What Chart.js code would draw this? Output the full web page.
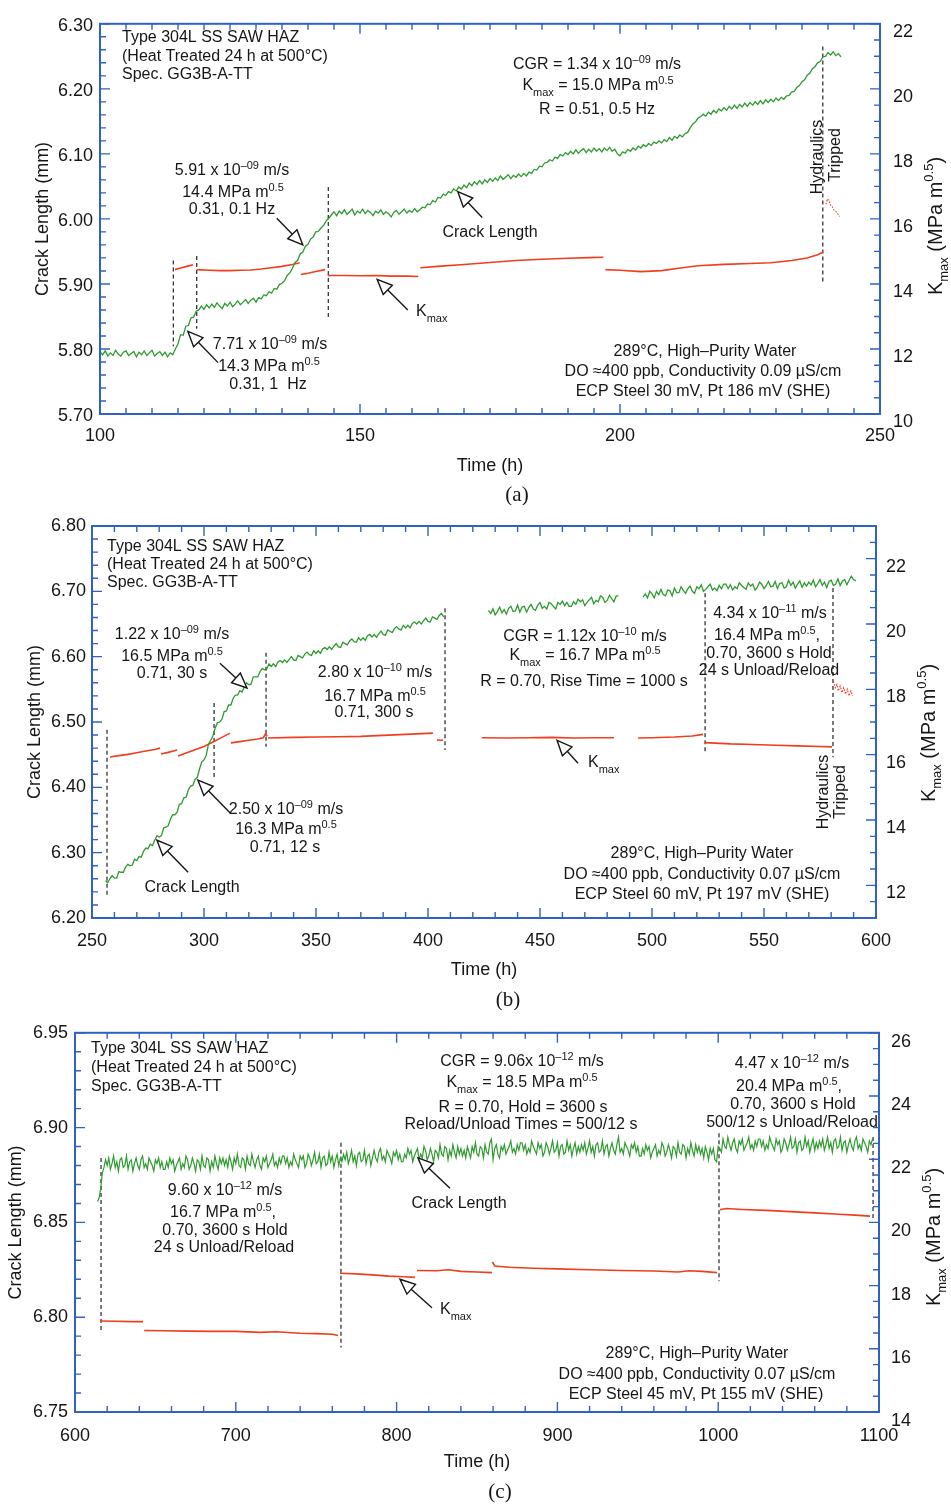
<!DOCTYPE html>
<html><head><meta charset="utf-8">
<script src="https://cdn.jsdelivr.net/npm/chart.js@4.4.0/dist/chart.umd.min.js"></script>
<style>
html,body{margin:0;padding:0;background:#fff;}
body{width:951px;height:1507px;position:relative;overflow:hidden;}
canvas{position:absolute;left:0;}
</style></head><body>
<canvas id="ca" width="951" height="505" style="top:0px"></canvas>
<canvas id="cb" width="951" height="505" style="top:505px"></canvas>
<canvas id="cc" width="951" height="497" style="top:1010px"></canvas>
<script>
// ---------------- DATA ----------------
// Panel (a): crack length (mm), sampled every 0.5 h from 100 h
const crackA_t0 = 100, crackA_dt = 0.5;
const crackA = [
5.796,5.791,5.797,5.789,5.794,5.790,5.798,5.792,5.789,5.795,
5.797,5.790,5.793,5.796,5.788,5.795,5.791,5.797,5.790,5.794,
5.798,5.789,5.793,5.796,5.790,5.795,5.788,5.794,5.791,5.800,
5.808,5.822,5.821,5.835,5.836,5.848,5.849,5.858,5.860,5.866,
5.861,5.868,5.863,5.869,5.864,5.871,5.866,5.862,5.870,5.866,
5.872,5.865,5.869,5.874,5.868,5.872,5.876,5.870,5.875,5.878,
5.872,5.879,5.877,5.883,5.882,5.888,5.886,5.893,5.892,5.899,
5.901,5.905,5.913,5.917,5.924,5.933,5.936,5.946,5.949,5.958,
5.961,5.969,5.972,5.980,5.981,5.986,5.990,5.997,6.001,6.006,
6.011,6.005,6.012,6.008,6.014,6.007,6.011,6.015,6.006,6.012,
6.009,6.015,6.008,6.013,6.010,6.005,6.012,6.009,6.014,6.007,
6.011,6.008,6.003,6.010,6.013,6.007,6.011,6.015,6.009,6.013,
6.010,6.016,6.011,6.014,6.018,6.017,6.023,6.022,6.028,6.026,
6.033,6.032,6.038,6.036,6.042,6.040,6.046,6.043,6.049,6.046,
6.052,6.048,6.055,6.051,6.057,6.053,6.059,6.054,6.060,6.056,
6.062,6.058,6.063,6.059,6.066,6.061,6.064,6.068,6.062,6.067,
6.064,6.069,6.065,6.070,6.066,6.072,6.070,6.076,6.075,6.081,
6.080,6.086,6.087,6.091,6.089,6.095,6.093,6.099,6.097,6.102,
6.099,6.104,6.100,6.106,6.101,6.105,6.108,6.102,6.107,6.103,
6.109,6.104,6.108,6.103,6.109,6.105,6.110,6.104,6.107,6.100,
6.097,6.103,6.101,6.107,6.104,6.109,6.106,6.112,6.109,6.114,
6.111,6.116,6.113,6.118,6.116,6.120,6.117,6.122,6.119,6.125,
6.121,6.127,6.124,6.129,6.126,6.131,6.133,6.140,6.146,6.149,
6.155,6.157,6.161,6.158,6.164,6.161,6.167,6.163,6.169,6.166,
6.171,6.167,6.173,6.169,6.175,6.170,6.176,6.172,6.178,6.173,
6.179,6.175,6.180,6.176,6.182,6.177,6.183,6.179,6.184,6.180,
6.186,6.182,6.187,6.184,6.189,6.190,6.195,6.196,6.202,6.205,
6.211,6.214,6.221,6.224,6.231,6.234,6.240,6.242,6.249,6.250,
6.256,6.252,6.257,6.251,6.254,6.249];
// Kmax (MPa m^0.5) segments, [time h, Kmax]
const kmaxA = [
 [[114.4,14.44],[115.5,14.49],[116.7,14.54],[117.9,14.59]],
 [[118.6,14.44],[121,14.42],[123,14.41],[125,14.41],[127,14.42],[129,14.43],[131,14.46],[133,14.50],[135,14.54],[137,14.60],[138.4,14.65]],
 [[138.6,14.29],[140,14.33],[141.5,14.38],[143.3,14.44]],
 [[143.8,14.26],[147,14.26],[150,14.25],[153,14.26],[156,14.24],[159,14.24],[161.2,14.23]],
 [[161.6,14.50],[165,14.54],[170,14.60],[175,14.66],[180,14.72],[185,14.76],[190,14.79],[194,14.81],[196.8,14.82]],
 [[197.2,14.44],[200,14.42],[204,14.38],[208,14.41],[212,14.50],[215,14.56],[220,14.60],[225,14.63],[229,14.65],[233,14.72],[236,14.80],[238,14.90],[239.1,14.98]]
];
const kmaxA_trip = [[239.6,16.45],[239.9,16.62],[240.2,16.55],[240.5,16.42],[240.8,16.38],[241.1,16.28],[241.4,16.24],[241.7,16.2],[242,16.12],[242.3,16.08]];
// vertical dashed markers: [time, crack top, crack bottom]
const dashA = [[114.1,5.936,5.804],[118.6,5.943,5.831],[143.9,6.049,5.847],[239.0,6.265,5.903]];
const xTicksA = [100,150,200,250];
const lTicksA = [5.7,5.8,5.9,6.0,6.1,6.2,6.3];
const rTicksA = [10,12,14,16,18,20,22];

// Panel (b): sampled every 1 h
const crackB_dt = 1;
const crackB1_t0 = 256;
const crackB1 = [
6.257,6.254,6.260,6.265,6.261,6.261,6.271,6.270,6.270,6.278,
6.282,6.280,6.281,6.290,6.288,6.294,6.293,6.302,6.307,6.306,
6.313,6.311,6.319,6.326,6.324,6.326,6.338,6.339,6.341,6.351,
6.358,6.358,6.362,6.374,6.375,6.384,6.385,6.396,6.402,6.403,
6.412,6.415,6.428,6.439,6.442,6.449,6.466,6.472,6.479,6.491,
6.499,6.500,6.504,6.516,6.517,6.526,6.526,6.536,6.541,6.541,
6.548,6.546,6.554,6.560,6.557,6.558,6.569,6.569,6.569,6.577,
6.582,6.580,6.581,6.589,6.585,6.589,6.585,6.592,6.594,6.591,
6.595,6.591,6.596,6.600,6.595,6.594,6.602,6.600,6.598,6.604,
6.607,6.603,6.602,6.609,6.605,6.609,6.605,6.612,6.614,6.611,
6.615,6.611,6.616,6.620,6.615,6.614,6.622,6.620,6.618,6.624,
6.627,6.623,6.622,6.629,6.625,6.629,6.625,6.632,6.634,6.630,
6.634,6.630,6.635,6.639,6.634,6.633,6.641,6.639,6.637,6.643,
6.646,6.642,6.641,6.648,6.644,6.648,6.644,6.651,6.653,6.650,
6.654,6.650,6.655,6.659,6.654,6.653,6.661,6.659,6.657,6.663,
6.666,6.661];
const crackB2_t0 = 427;
const crackB2 = [
6.671,6.666,6.673,6.664,6.669,6.676,6.667,6.672,6.665,6.674,
6.677,6.669,6.670,6.679,6.668,6.676,6.677,6.668,6.675,6.680,
6.673,6.671,6.679,6.683,6.674,6.677,6.673,6.683,6.681,6.677,
6.673,6.683,6.680,6.685,6.678,6.683,6.677,6.677,6.684,6.680,
6.688,6.684,6.687,6.678,6.683,6.687,6.691,6.681,6.686,6.684,
6.693,6.691,6.683,6.686,6.694,6.689,6.684,6.693,6.693];
const crackB3_t0 = 496;
const crackB3 = [
6.691,6.696,6.690,6.700,6.696,6.690,6.700,6.695,6.703,6.695,
6.693,6.702,6.701,6.693,6.705,6.698,6.698,6.707,6.701,6.697,
6.704,6.708,6.700,6.697,6.707,6.704,6.710,6.700,6.703,6.707,
6.711,6.702,6.705,6.701,6.709,6.704,6.711,6.711,6.704,6.710,
6.702,6.707,6.704,6.713,6.709,6.706,6.703,6.713,6.708,6.711,
6.702,6.706,6.714,6.711,6.704,6.709,6.715,6.707,6.708,6.715,
6.704,6.712,6.713,6.705,6.707,6.717,6.709,6.714,6.705,6.711,
6.716,6.706,6.713,6.708,6.714,6.710,6.717,6.707,6.712,6.718,
6.709,6.714,6.706,6.715,6.717,6.709,6.711,6.719,6.709,6.716,
6.718,6.710,6.717,6.723,6.718,6.716];
const kmaxB = [
 [[258,15.93],[262,15.97],[266,16.01],[270,16.06],[274,16.11],[278,16.16],[280.4,16.20]],
 [[280.8,16.02],[284,16.07],[288,16.14]],
 [[288.4,15.96],[292,16.05],[296,16.15],[300,16.25],[304,16.39],[308,16.53],[311.6,16.66]],
 [[312,16.36],[316,16.40],[320,16.44],[324,16.48],[326.5,16.52],[327.5,16.64],[328.2,16.56]],
 [[328.6,16.51],[340,16.53],[350,16.54],[360,16.55],[370,16.56],[380,16.59],[390,16.62],[402.2,16.66]],
 [[404,16.45],[406.7,16.44]],
 [[424,16.52],[435,16.51],[445,16.52],[455,16.53],[465,16.51],[475,16.52],[483,16.52]],
 [[493.8,16.51],[500,16.52],[510,16.54],[518,16.57],[522.8,16.62]],
 [[523.7,16.37],[535,16.33],[545,16.31],[555,16.29],[565,16.27],[575,16.25],[580.4,16.24]]
];
const kmaxB_trip = [[581,18.25],[581.8,18.05],[582.5,18.15],[583.2,17.95],[584,18.1],[584.8,17.9],[585.6,18.05],[586.4,17.85],[587.2,18.0],[588,17.8],[588.8,17.95],[589.6,17.8]];
const dashB = [[256.7,6.488,6.231],[304.5,6.529,6.416],[327.7,6.606,6.462],[407.6,6.674,6.457],[523.7,6.697,6.453],[580.8,6.705,6.446]];
const xTicksB = [250,300,350,400,450,500,550,600];
const lTicksB = [6.2,6.3,6.4,6.5,6.6,6.7,6.8];
const rTicksB = [12,14,16,18,20,22];

// Panel (c): sampled every 1 h from 614 h
const crackC_t0 = 614, crackC_dt = 1;
const crackC = [
6.861,6.863,6.868,6.876,6.879,
6.883,6.880,6.884,6.878,6.881,6.885,6.879,6.882,6.877,6.883,6.884,6.879,6.880,6.885,6.878,6.882,6.883,6.877,6.881,6.884,6.880,6.878,6.883,6.885,6.879,6.881,6.878,6.884,6.882,6.880,6.877,6.883,6.881,6.884,6.879,6.882,6.878,
6.878,6.882,6.879,6.884,6.881,6.883,6.877,6.880,6.882,6.884,6.878,6.881,6.879,6.885,6.883,6.878,6.880,6.884,6.881,6.877,6.883,6.882,6.878,6.885,6.880,6.879,6.884,6.883,6.877,6.882,6.879,6.885,6.881,6.878,6.884,6.881,6.884,
6.880,6.883,6.879,6.885,6.882,6.878,6.884,6.881,6.886,6.880,6.879,6.884,6.883,6.878,6.885,6.881,6.880,6.886,6.882,6.879,6.883,6.885,6.880,6.878,6.884,6.882,6.885,6.879,6.881,6.883,6.886,6.880,6.882,6.879,6.884,6.881,6.885,
6.885,6.881,6.884,6.879,6.882,6.880,6.886,6.883,6.881,6.879,6.885,6.883,6.885,6.879,6.881,6.886,6.884,6.880,6.883,6.887,6.881,6.882,6.886,6.879,6.884,6.885,6.880,6.881,6.887,6.882,6.885,6.879,6.883,6.886,6.880,6.884,6.882,
6.886,6.883,6.887,6.881,6.884,6.888,6.882,6.885,6.880,6.886,6.887,6.882,6.883,6.888,6.881,6.885,6.886,6.880,6.884,6.888,6.884,6.882,6.887,6.889,6.883,6.885,6.882,6.888,6.886,6.884,6.881,6.887,6.885,6.888,6.883,6.886,6.882,
6.882,6.886,6.884,6.889,6.886,6.888,6.882,6.885,6.887,6.889,6.883,6.886,6.884,6.890,6.888,6.883,6.885,6.889,6.886,6.882,6.888,6.887,6.884,6.891,6.886,6.885,6.890,6.889,6.883,6.888,6.885,6.891,6.887,6.884,6.890,6.886,6.889,
6.885,6.888,6.884,6.890,6.887,6.884,6.890,6.887,6.892,6.886,6.885,6.890,6.889,6.884,6.891,6.887,6.886,6.892,6.894,6.883,6.889,6.891,6.886,6.884,6.890,6.888,6.891,6.886,6.888,6.890,6.893,6.887,6.889,6.886,6.891,6.888,6.892,
6.892,6.888,6.891,6.886,6.889,6.887,6.893,6.890,6.888,6.886,6.892,6.889,6.891,6.885,6.887,6.892,6.890,6.886,6.889,6.893,6.887,6.888,6.892,6.885,6.890,6.891,6.886,6.887,6.893,6.888,6.891,6.885,6.889,6.892,6.886,6.890,6.887,
6.891,6.888,6.892,6.886,6.889,6.893,6.887,6.890,6.885,6.891,6.892,6.887,6.888,6.893,6.886,6.890,6.891,6.885,6.889,6.892,6.888,6.886,6.891,6.895,6.887,6.889,6.886,6.892,6.890,6.888,6.885,6.891,6.889,6.892,6.887,6.890,6.885,
6.885,6.889,6.886,6.891,6.888,6.890,6.884,6.887,6.889,6.891,6.885,6.888,6.886,6.892,6.890,6.885,6.887,6.891,6.888,6.884,6.890,6.889,6.885,6.892,6.887,6.886,6.891,6.890,6.884,6.889,6.886,6.892,6.888,6.885,6.891,6.887,6.890,
6.886,6.889,6.884,6.890,6.887,6.883,6.889,6.886,6.889,6.883,6.882,6.890,6.889,6.887,6.894,6.890,6.889,6.895,6.891,6.888,6.892,6.894,6.889,6.887,6.893,6.891,6.894,6.888,6.890,6.892,6.895,6.889,6.891,6.888,6.893,6.890,6.894,
6.894,6.890,6.893,6.888,6.891,6.889,6.895,6.892,6.890,6.888,6.894,6.891,6.893,6.887,6.889,6.894,6.892,6.888,6.891,6.895,6.889,6.890,6.894,6.887,6.892,6.893,6.888,6.889,6.895,6.890,6.893,6.887,6.891,6.894,6.888,6.892,6.889,
6.893,6.890,6.894,6.888,6.891,6.895,6.889,6.892,6.887,6.893,6.894,6.889,6.890,6.895,6.888,6.892,6.893,6.887,6.891,6.894,6.890,6.888,6.893,6.895,6.889,6.891,6.888,6.894,6.892,6.890,6.887,6.893,6.891,6.894];
const kmaxC = [
 [[615.5,16.88],[625,16.87],[635,16.86],[642.3,16.86]],
 [[643,16.58],[655,16.57],[670,16.56],[685,16.55],[700,16.55],[715,16.52],[725,16.54],[740,16.49],[750,16.48],[760,16.46],[763.6,16.42]],
 [[764.8,18.39],[775,18.37],[785,18.34],[795,18.30],[805,18.28],[811.4,18.26]],
 [[812.7,18.48],[825,18.47],[832,18.50],[840,18.45],[850,18.43],[859.3,18.41]],
 [[859.6,18.75],[861,18.62],[870,18.58],[885,18.55],[900,18.53],[920,18.50],[940,18.48],[960,18.46],[975,18.43],[982,18.47],[990,18.45],[999.3,18.41]],
 [[1001,20.40],[1005,20.44],[1015,20.41],[1030,20.38],[1045,20.34],[1060,20.30],[1075,20.26],[1085,20.23],[1094.4,20.20]]
];
const dashC = [[616.2,6.884,6.792],[765.4,6.892,6.784],[1000.5,6.897,6.819],[1096.3,6.895,6.851]];
const xTicksC = [600,700,800,900,1000,1100];
const lTicksC = [6.75,6.80,6.85,6.90,6.95];
const rTicksC = [14,16,18,20,22,24,26];

// annotation arrows [tail t, tail crack, tip t, tip crack]
const arrowsA = [[134.0,6.001,139.0,5.960],[122.7,5.779,116.9,5.827],[173.5,6.002,168.8,6.042],[159.2,5.860,153.3,5.907]];
const arrowsB = [[307.1,6.590,319.2,6.552],[311.6,6.361,297.3,6.411],[292.9,6.270,279.0,6.319],[467.0,6.437,457.6,6.472]];
const arrowsC = [[833.2,6.868,813.3,6.884],[822.0,6.805,802.1,6.820]];

// ---------------- RENDERING ----------------
const FAM = '"Liberation Sans", Arial, Helvetica, sans-serif';
const SERIF = '"Liberation Serif", "Times New Roman", serif';
const INK = '#161616', BLUE = '#2f62c4', GREEN = '#2f9a2f', RED = '#ef3d1e';

function parseRich(s){
  const out=[]; const re=/(\^\{[^}]*\}|_\{[^}]*\})/g; let last=0, m;
  while((m=re.exec(s))){ if(m.index>last) out.push({t:s.slice(last,m.index),m:0});
    out.push({t:m[0].slice(2,-1), m: m[0][0]==='^'?1:-1}); last=re.lastIndex; }
  if(last<s.length) out.push({t:s.slice(last),m:0});
  return out;
}
function drawRich(ctx, s, x, y, size, align){
  const segs=parseRich(s); const small=Math.round(size*0.66);
  let w=0;
  segs.forEach(g=>{ctx.font=(g.m?small:size)+'px '+FAM; g.w=ctx.measureText(g.t).width; w+=g.w;});
  let cx = align==='center'? x-w/2 : (align==='right'? x-w : x);
  ctx.textBaseline='middle'; ctx.textAlign='left'; ctx.fillStyle=INK;
  segs.forEach(g=>{ctx.font=(g.m?small:size)+'px '+FAM;
    const dy = g.m===1 ? -size*0.31 : (g.m===-1 ? size*0.42 : 0);
    ctx.fillText(g.t,cx,y+dy); cx+=g.w;});
}
function drawArrow(ctx,x1,y1,x2,y2){
  const dx=x2-x1, dy=y2-y1, len=Math.hypot(dx,dy), ux=dx/len, uy=dy/len;
  const L=15, W=6.5, bx=x2-ux*L, by=y2-uy*L;
  ctx.strokeStyle=INK; ctx.lineWidth=1.4;
  ctx.beginPath(); ctx.moveTo(x1,y1); ctx.lineTo(bx,by); ctx.stroke();
  ctx.beginPath(); ctx.moveTo(x2,y2); ctx.lineTo(bx-uy*W,by+ux*W); ctx.lineTo(bx+uy*W,by-ux*W); ctx.closePath();
  ctx.fillStyle='#fff'; ctx.fill(); ctx.stroke();
}

const deco = {
  id:'deco',
  afterDraw(chart, args, o){
    const ctx=chart.ctx, a=chart.chartArea, sx=chart.scales.x, sl=chart.scales.yL, sr=chart.scales.yR;
    ctx.save();
    const tk=(scale,major,minor,draw)=>{
      const n=Math.round((scale.max-scale.min)/minor);
      for(let i=0;i<=n;i++){ const v=scale.min+i*minor;
        const isMaj=Math.abs(v/major-Math.round(v/major))<1e-6;
        draw(scale.getPixelForValue(v), isMaj?10:6); }
    };
    ctx.strokeStyle=BLUE; ctx.lineWidth=1.4; ctx.beginPath();
    tk(sx,o.xt[0],o.xt[1],(p,L)=>{ctx.moveTo(p,a.bottom);ctx.lineTo(p,a.bottom-L);ctx.moveTo(p,a.top);ctx.lineTo(p,a.top+L);});
    tk(sl,o.lt[0],o.lt[1],(p,L)=>{ctx.moveTo(a.left,p);ctx.lineTo(a.left+L,p);});
    tk(sr,o.rt[0],o.rt[1],(p,L)=>{ctx.moveTo(a.right,p);ctx.lineTo(a.right-L,p);});
    ctx.stroke();
    ctx.lineWidth=2; ctx.strokeRect(a.left,a.top,a.width,a.height);
    o.arrows.forEach(r=>drawArrow(ctx, sx.getPixelForValue(r[0]), sl.getPixelForValue(r[1]), sx.getPixelForValue(r[2]), sl.getPixelForValue(r[3])));
    o.texts.forEach(t=>drawRich(ctx,t[2],t[0],t[1]-o.oy,t[4]||16,t[3]||'center'));
    o.rot.forEach(t=>{ctx.save(); ctx.translate(t[0],t[1]-o.oy); ctx.rotate(-Math.PI/2); drawRich(ctx,t[2],0,0,t[3]||16,'center'); ctx.restore();});
    ctx.fillStyle=INK; ctx.font='21px '+SERIF; ctx.textAlign='center'; ctx.textBaseline='middle';
    ctx.fillText(o.caption[2], o.caption[0], o.caption[1]-o.oy);
    ctx.restore();
  }
};

function series(t0,dt,vals,axis,color,w){
  return {data: vals.map((v,i)=>({x:+(t0+i*dt).toFixed(3), y:v})), yAxisID:axis, borderColor:color, borderWidth:w, showLine:true, pointRadius:0, tension:0, fill:false};
}
function pairs(arr,axis,color,w,dash){
  return {data: arr.map(p=>({x:p[0],y:p[1]})), yAxisID:axis, borderColor:color, borderWidth:w, borderDash:dash||[], showLine:true, pointRadius:0, tension:0, fill:false};
}
function dashes(list){
  return list.map(d=>({data:[{x:d[0],y:d[1]},{x:d[0],y:d[2]}], yAxisID:'yL', borderColor:'#222', borderWidth:1.2, borderDash:[4,3], showLine:true, pointRadius:0, fill:false}));
}

function makeChart(id, c){
  const tickFont={family:FAM,size:18};
  return new Chart(document.getElementById(id), {
    type:'scatter',
    data:{datasets:c.datasets},
    options:{
      responsive:false, animation:false, events:[],
      layout:{padding:{top:c.padTop,bottom:c.padBottom,left:0,right:0}},
      plugins:{legend:{display:false}, tooltip:{enabled:false}, deco:c.deco},
      scales:{
        x:{type:'linear',position:'bottom',min:c.xr[0],max:c.xr[1],
           afterBuildTicks:s=>{s.ticks=c.xTicks.map(v=>({value:v}));},
           afterFit:s=>{s.height=c.xH;},
           grid:{display:false,drawTicks:false}, border:{display:false},
           ticks:{font:tickFont,color:INK,padding:c.xPad,autoSkip:false,maxRotation:0,callback:v=>String(v)},
           title:{display:true,text:'Time (h)',font:{family:FAM,size:18},color:INK,padding:{top:0,bottom:c.xTitlePad}}},
        yL:{type:'linear',position:'left',min:c.lr[0],max:c.lr[1],
           afterBuildTicks:s=>{s.ticks=c.lTicks.map(v=>({value:v}));},
           afterFit:s=>{s.width=c.lW;},
           grid:{display:false,drawTicks:false}, border:{display:false},
           ticks:{font:tickFont,color:INK,padding:c.lPad,labelOffset:c.lOff,autoSkip:false,callback:v=>v.toFixed(2)},
           title:{display:true,text:'Crack Length (mm)',font:{family:FAM,size:18},color:INK,padding:{top:c.lTitlePad,bottom:0}}},
        yR:{type:'linear',position:'right',min:c.rr[0],max:c.rr[1],
           afterBuildTicks:s=>{s.ticks=c.rTicks.map(v=>({value:v}));},
           afterFit:s=>{s.width=c.rW;},
           grid:{display:false,drawTicks:false}, border:{display:false},
           ticks:{font:tickFont,color:INK,padding:c.rPad,labelOffset:c.rOff,autoSkip:false,callback:v=>String(v)}}
      }
    },
    plugins:[deco]
  });
}

// ---- Panel (a)
makeChart('ca', {
  datasets:[series(crackA_t0,crackA_dt,crackA,'yL',GREEN,1.3)]
    .concat(kmaxA.map(s=>pairs(s,'yR',RED,1.6)))
    .concat([pairs(kmaxA_trip,'yR',RED,1.1,[1.5,1.5])])
    .concat(dashes(dashA)),
  padTop:17, padBottom:25, xH:66, lW:100, rW:71,
  xr:[100,250], lr:[5.7,6.3], rr:[10,22], xTicks:xTicksA, lTicks:lTicksA, rTicks:rTicksA,
  xPad:11, xTitlePad:3, lPad:7, lOff:2, lTitlePad:32, rPad:13, rOff:8,
  deco:{oy:0, xt:[50,5], lt:[0.1,0.02], rt:[2,0.5], arrows:arrowsA,
    texts:[
      [122,38,'Type 304L SS SAW HAZ','left'],[122,57,'(Heat Treated 24 h at 500°C)','left'],[122,75,'Spec. GG3B-A-TT','left'],
      [232,171,'5.91 x 10^{–09} m/s'],[233,193,'14.4 MPa m^{0.5}'],[232,210,'0.31, 0.1 Hz'],
      [270,345,'7.71 x 10^{–09} m/s'],[269,367,'14.3 MPa m^{0.5}'],[268,385,'0.31, 1  Hz'],
      [490,233,'Crack Length'],[416,312,'K_{max}','left'],
      [597,65,'CGR = 1.34 x 10^{–09} m/s'],[598,86,'K_{max} = 15.0 MPa m^{0.5}'],[597,110,'R = 0.51, 0.5 Hz'],
      [705,352,'289°C, High–Purity Water'],[703,372,'DO ≈400 ppb, Conductivity 0.09 µS/cm'],[703,392,'ECP Steel 30 mV, Pt 186 mV (SHE)']
    ],
    rot:[[818,157,'Hydraulics'],[836,155,'Tripped'],[936,226,'K_{max} (MPa m^{0.5})',20]],
    caption:[517,495,'(a)']}
});

// ---- Panel (b)
makeChart('cb', {
  datasets:[series(crackB1_t0,crackB_dt,crackB1,'yL',GREEN,1.3),
            series(crackB2_t0,crackB_dt,crackB2,'yL',GREEN,1.3),
            series(crackB3_t0,crackB_dt,crackB3,'yL',GREEN,1.3)]
    .concat(kmaxB.map(s=>pairs(s,'yR',RED,1.6)))
    .concat([pairs(kmaxB_trip,'yR',RED,1.1,[1.5,1.5])])
    .concat(dashes(dashB)),
  padTop:21, padBottom:25, xH:67, lW:92, rW:75,
  xr:[250,600], lr:[6.2,6.8], rr:[11,23], xTicks:xTicksB, lTicks:lTicksB, rTicks:rTicksB,
  xPad:12, xTitlePad:4, lPad:6, lOff:0, lTitlePad:24, rPad:10, rOff:8,
  deco:{oy:505, xt:[50,10], lt:[0.1,0.02], rt:[2,0.5], arrows:arrowsB,
    texts:[
      [107,547,'Type 304L SS SAW HAZ','left'],[107,565,'(Heat Treated 24 h at 500°C)','left'],[107,583,'Spec. GG3B-A-TT','left'],
      [172,635,'1.22 x 10^{–09} m/s'],[172,657,'16.5 MPa m^{0.5}'],[172,674,'0.71, 30 s'],
      [375,673,'2.80 x 10^{–10} m/s'],[375,697,'16.7 MPa m^{0.5}'],[374,713,'0.71, 300 s'],
      [286,810,'2.50 x 10^{–09} m/s'],[286,830,'16.3 MPa m^{0.5}'],[285,848,'0.71, 12 s'],
      [192,888,'Crack Length'],
      [585,637,'CGR = 1.12x 10^{–10} m/s'],[585,656,'K_{max} = 16.7 MPa m^{0.5}'],[584,682,'R = 0.70, Rise Time = 1000 s'],
      [770,614,'4.34 x 10^{–11} m/s'],[767,636,'16.4 MPa m^{0.5},'],[769,654,'0.70, 3600 s Hold'],[769,671,'24 s Unload/Reload'],
      [588,763,'K_{max}','left'],
      [702,854,'289°C, High–Purity Water'],[702,875,'DO ≈400 ppb, Conductivity 0.07 µS/cm'],[702,895,'ECP Steel 60 mV, Pt 197 mV (SHE)']
    ],
    rot:[[824,792,'Hydraulics'],[841,792,'Tripped'],[929,733,'K_{max} (MPa m^{0.5})',20]],
    caption:[508,1000,'(b)']}
});

// ---- Panel (c)
makeChart('cc', {
  datasets:[series(crackC_t0,crackC_dt,crackC,'yL',GREEN,1.2)]
    .concat(kmaxC.map(s=>pairs(s,'yR',RED,1.6)))
    .concat(dashes(dashC)),
  padTop:19, padBottom:30, xH:65, lW:75, rW:72,
  xr:[600,1100], lr:[6.75,6.95], rr:[14,26], xTicks:xTicksC, lTicks:lTicksC, rTicks:rTicksC,
  xPad:13, xTitlePad:4, lPad:7, lOff:0, lTitlePad:5, rPad:12, rOff:9,
  deco:{oy:1010, xt:[100,20], lt:[0.05,0.01], rt:[2,0.5], arrows:arrowsC,
    texts:[
      [91,1049,'Type 304L SS SAW HAZ','left'],[91,1068,'(Heat Treated 24 h at 500°C)','left'],[91,1087,'Spec. GG3B-A-TT','left'],
      [225,1191,'9.60 x 10^{–12} m/s'],[223,1213,'16.7 MPa m^{0.5},'],[225,1231,'0.70, 3600 s Hold'],[224,1248,'24 s Unload/Reload'],
      [459,1204,'Crack Length'],[440,1310,'K_{max}','left'],
      [522,1062,'CGR = 9.06x 10^{–12} m/s'],[522,1083,'K_{max} = 18.5 MPa m^{0.5}'],[523,1108,'R = 0.70, Hold = 3600 s'],[521,1125,'Reload/Unload Times = 500/12 s'],
      [792,1064,'4.47 x 10^{–12} m/s'],[789,1087,'20.4 MPa m^{0.5},'],[793,1105,'0.70, 3600 s Hold'],[792,1123,'500/12 s Unload/Reload'],
      [697,1354,'289°C, High–Purity Water'],[697,1375,'DO ≈400 ppb, Conductivity 0.07 µS/cm'],[696,1395,'ECP Steel 45 mV, Pt 155 mV (SHE)']
    ],
    rot:[[934,1237,'K_{max} (MPa m^{0.5})',20]],
    caption:[500,1492,'(c)']}
});
</script>
</body></html>
